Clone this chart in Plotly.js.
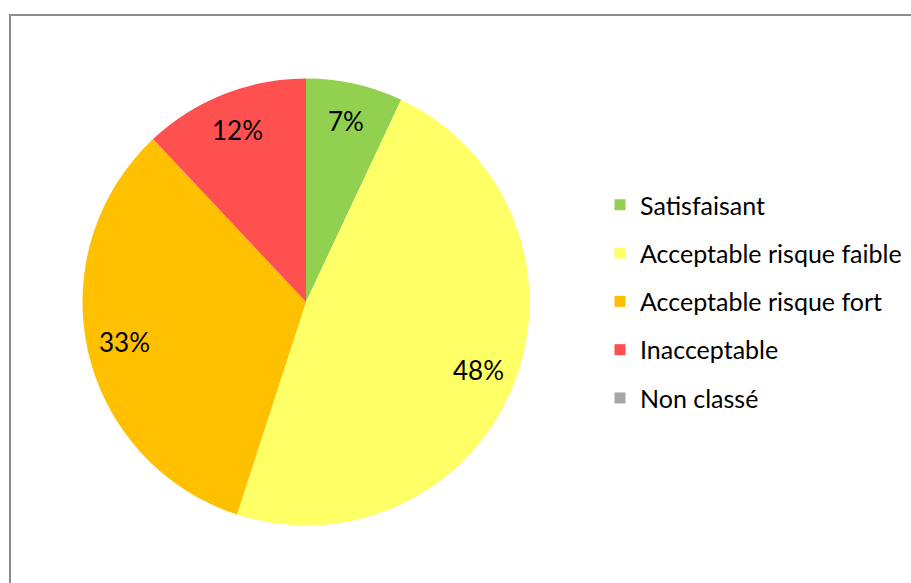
<!DOCTYPE html>
<html>
<head>
<meta charset="utf-8">
<script src="https://cdn.plot.ly/plotly-3.0.1.min.js"></script>
<style>html,body{margin:0;padding:0;background:#fff;}#chart{width:911px;height:583px;}</style>
</head>
<body>
<div id="chart"></div>
<script>
const categories = ["Satisfaisant", "Acceptable risque faible", "Acceptable risque fort", "Inacceptable", "Non classé"];
const shares = [7, 48, 33, 12, 0];
const colors = ["#92D050", "#FFFF66", "#FFC000", "#FF5050", "#A6A6A6"];

const FONT = "Lato, 'Open Sans', sans-serif";
const W = 911, H = 583;
// pie placement (pixels)
const CX = 306, CY = 302, R = 223.5;
const LABEL_K = 0.83;

const pie = {
  type: "pie",
  labels: categories,
  values: shares,
  marker: {colors: colors, line: {width: 0}},
  sort: false,
  direction: "clockwise",
  rotation: 0,
  textinfo: "none",
  domain: {x: [(CX - R)/W, (CX + R)/W], y: [1 - (CY + R)/H, 1 - (CY - R)/H]},
  showlegend: false,
  hoverinfo: "label+percent"
};

// percentage labels placed along each slice's mid-angle (derived from the data)
const total = shares.reduce((a, b) => a + b, 0);
const annotations = [];
let cum = 0;
shares.forEach((v, i) => {
  if (v > 0) {
    const theta = 2 * Math.PI * (cum + v / 2) / total;
    const px = CX + LABEL_K * R * Math.sin(theta);
    const py = CY - LABEL_K * R * Math.cos(theta);
    annotations.push({
      xref: "paper", yref: "paper", x: px / W, y: 1 - py / H,
      text: Math.round(100 * v / total) + "%",
      showarrow: false, xanchor: "center", yanchor: "middle",
      font: {family: FONT, size: 26, color: "#000"}
    });
  }
  cum += v;
});

const legendTraces = categories.map((c, i) => ({
  type: "scatter",
  mode: "markers",
  x: [null], y: [null],
  name: c,
  legendgroup: "g" + i,
  marker: {symbol: "square", size: 11, color: colors[i]},
  showlegend: true,
  hoverinfo: "skip"
}));

const layout = {
  width: W, height: H,
  margin: {l: 0, r: 0, t: 0, b: 0},
  paper_bgcolor: "#fff",
  plot_bgcolor: "rgba(0,0,0,0)",
  font: {family: FONT, color: "#000"},
  xaxis: {visible: false},
  yaxis: {visible: false},
  showlegend: true,
  legend: {
    x: 600/W, xanchor: "left",
    y: 1 - 182/H, yanchor: "top",
    font: {family: FONT, size: 25, color: "#000"},
    tracegroupgap: 12.8,
    traceorder: "grouped",
    bgcolor: "rgba(0,0,0,0)"
  },
  annotations: annotations,
  shapes: [{
    type: "rect", xref: "paper", yref: "paper",
    x0: 10/W, x1: 1.02, y0: -0.03, y1: 1 - 15/H,
    line: {color: "#8c8c8c", width: 2}, fillcolor: "rgba(0,0,0,0)", layer: "above"
  }]
};

Plotly.newPlot("chart", [pie].concat(legendTraces), layout, {displayModeBar: false, staticPlot: true});
</script>
</body>
</html>
